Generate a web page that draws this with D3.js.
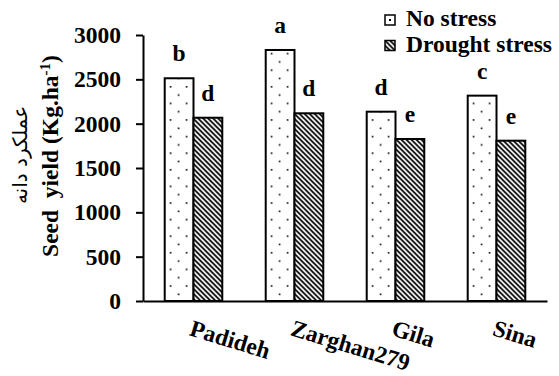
<!DOCTYPE html>
<html>
<head>
<meta charset="utf-8">
<script src="https://cdn.jsdelivr.net/npm/d3@7"></script>
</head>
<body style="margin:0; background:#fff">
<script>
// values
var cultivars = ["Padideh", "Zarghan279", "Gila", "Sina"];
var noStress = [2512, 2831, 2135, 2316];
var droughtStress = [2067, 2117, 1827, 1808];
var lettersNo = ["b", "a", "d", "c"];
var lettersDrought = ["d", "d", "e", "e"];
var yTicks = [0, 500, 1000, 1500, 2000, 2500, 3000];
var seriesNames = ["No stress", "Drought stress"];

var width = 559, height = 376;
var fs = 23.5;
var svg = d3.select("body").append("svg")
    .attr("width", width)
    .attr("height", height);

// bold Times look for all labels
function times(sel, size) {
    return sel.style("font-family", "'Liberation Serif', 'Times New Roman', serif")
        .style("font-weight", "bold")
        .style("font-size", size + "px")
        .attr("fill", "#000");
}

// fill patterns
var defs = svg.append("defs");
var dots = defs.append("pattern")
    .attr("id", "dots")
    .attr("patternUnits", "userSpaceOnUse")
    .attr("width", 16).attr("height", 16.6);
dots.append("rect").attr("width", 16).attr("height", 16.6).attr("fill", "#fff");
dots.append("rect").attr("x", 5).attr("y", 3).attr("width", 1.6).attr("height", 1.6).attr("fill", "#000");
dots.append("rect").attr("x", 13).attr("y", 11.3).attr("width", 1.6).attr("height", 1.6).attr("fill", "#000");

var hatch = defs.append("pattern")
    .attr("id", "hatch")
    .attr("patternUnits", "userSpaceOnUse")
    .attr("width", 5).attr("height", 5);
hatch.append("rect").attr("width", 5).attr("height", 5).attr("fill", "#fff");
hatch.append("path")
    .attr("d", "M-1,-1L6,6M-1,4L1,6M4,-1L6,1")
    .attr("stroke", "#000")
    .attr("stroke-width", 1.7);

var x = d3.scaleBand()
    .domain(cultivars)
    .range([143, 547])
    .paddingInner(0.43)
    .paddingOuter(0.215);

var xs = d3.scaleBand()
    .domain(seriesNames)
    .range([0, x.bandwidth()]);

var y = d3.scaleLinear()
    .domain([0, 3000])
    .range([301, 35]);

var fills = {"No stress": "url(#dots)", "Drought stress": "url(#hatch)"};

var rows = cultivars.map(function(c, i) {
    return [
        {cult: c, s: "No stress", v: noStress[i], l: lettersNo[i]},
        {cult: c, s: "Drought stress", v: droughtStress[i], l: lettersDrought[i]}
    ];
});

var groups = svg.selectAll(".grp")
    .data(rows)
    .enter().append("g")
    .attr("class", "grp")
    .attr("transform", function(d) { return "translate(" + x(d[0].cult) + ",0)"; });

groups.selectAll("rect")
    .data(function(d) { return d; })
    .enter().append("rect")
    .attr("x", function(d) { return xs(d.s); })
    .attr("y", function(d) { return y(d.v); })
    .attr("width", xs.bandwidth())
    .attr("height", function(d) { return y(0) - y(d.v); })
    .attr("fill", function(d) { return fills[d.s]; })
    .attr("stroke", "#000")
    .attr("stroke-width", 2);

// significance letters
times(groups.selectAll(".lbl")
    .data(function(d) { return d; })
    .enter().append("text")
    .attr("class", "lbl")
    .attr("x", function(d) { return xs(d.s) + xs.bandwidth() / 2; })
    .attr("y", function(d) { return y(d.v) - 17; })
    .attr("text-anchor", "middle")
    .text(function(d) { return d.l; }), fs);

// axes
var yAxis = svg.append("g")
    .attr("transform", "translate(143,0)")
    .call(d3.axisLeft(y).tickValues(yTicks).tickFormat(d3.format("d"))
        .tickSize(7).tickSizeOuter(0).tickPadding(15));

var xAxis = svg.append("g")
    .attr("transform", "translate(0,301)")
    .call(d3.axisBottom(x).tickSize(0).tickSizeOuter(0));
xAxis.selectAll("text")
    .attr("text-anchor", "start")
    .attr("x", 0).attr("y", 0).attr("dy", 0)
    .attr("transform", "translate(-5,34) rotate(17)");

times(svg.selectAll("g.tick text"), fs);
svg.selectAll(".domain").attr("stroke", "#000").attr("stroke-width", 2);
svg.selectAll(".tick line").attr("stroke", "#000").attr("stroke-width", 2);

// axis titles
var yt = times(svg.append("text")
    .attr("transform", "translate(58,156) rotate(-90)")
    .attr("text-anchor", "middle"), fs);
yt.append("tspan").text("Seed\u00a0\u00a0yield (Kg.ha");
yt.append("tspan").attr("baseline-shift", "super").style("font-size", "15px").text("-1");
yt.append("tspan").text(")");

svg.append("text")
    .attr("transform", "translate(27,155) rotate(-90)")
    .attr("text-anchor", "middle")
    .style("font-family", "'DejaVu Sans', sans-serif")
    .style("font-weight", "normal")
    .style("font-size", "20px")
    .text("عملکرد دانه");

// legend
var legend = svg.selectAll(".leg")
    .data(seriesNames)
    .enter().append("g")
    .attr("class", "leg")
    .attr("transform", function(d, i) { return "translate(385," + (15 + i * 25.5) + ")"; });
legend.append("rect")
    .attr("width", 10).attr("height", 10)
    .attr("fill", function(d) { return d === "No stress" ? "#fff" : "url(#hatch)"; })
    .attr("stroke", "#000")
    .attr("stroke-width", 1.5);
legend.filter(function(d) { return d === "No stress"; })
    .append("rect")
    .attr("x", 4).attr("y", 4).attr("width", 2).attr("height", 2)
    .attr("fill", "#000");
times(legend.append("text")
    .attr("x", 21).attr("y", 11)
    .text(function(d) { return d; }), fs);
</script>
</body>
</html>
